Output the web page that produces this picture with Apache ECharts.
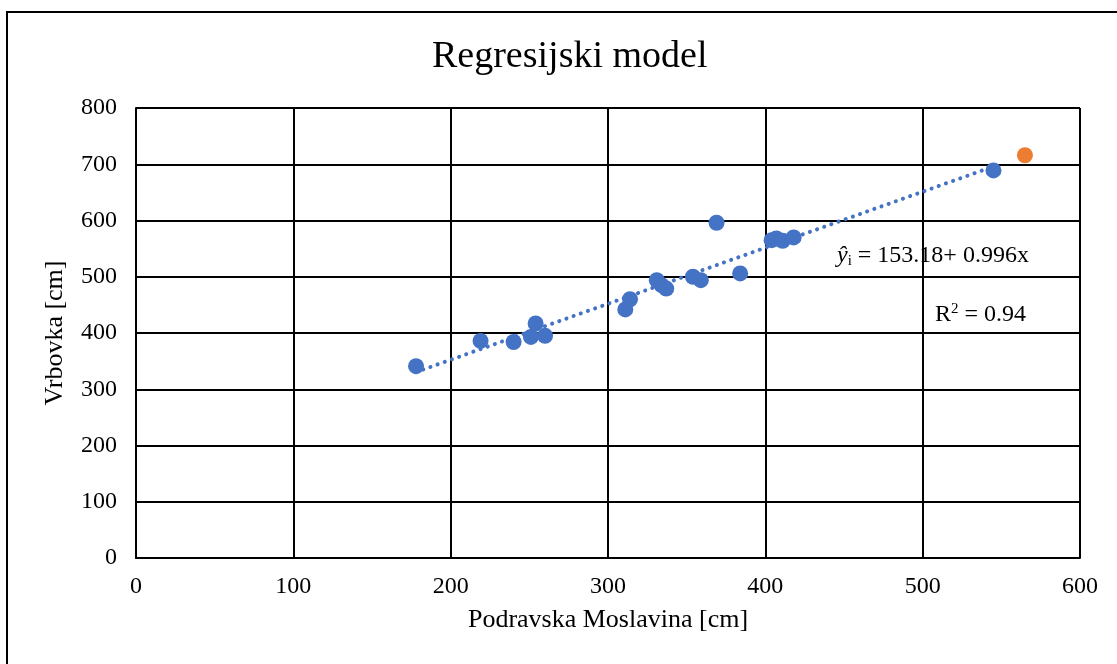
<!DOCTYPE html>
<html>
<head>
<meta charset="utf-8">
<script src="https://cdn.jsdelivr.net/npm/echarts@6/dist/echarts.min.js"></script>
<style>
  html, body { margin: 0; padding: 0; background: #fff; }
  #main { width: 1117px; height: 664px; }
</style>
</head>
<body>
<div id="main"></div>
<script>
// measured points: Podravska Moslavina (x) vs Vrbovka (y), cm
const xValues = [178, 219, 240, 251, 254, 260, 311, 314, 331, 334, 337, 354, 359, 369, 384, 404, 407, 411, 418, 545];
const yValues = [341, 386, 384, 393, 417, 395, 442, 460, 494, 485, 479, 500, 494, 596, 506, 565, 568, 564, 570, 689];
const extraPoint = [565, 716];

// trend line y = a + b*x
const trendA = 153.18;
const trendB = 0.996;
const trendFrom = 178;
const trendTo = 545;

const xTicks = [0, 100, 200, 300, 400, 500, 600];
const yTicks = [0, 100, 200, 300, 400, 500, 600, 700, 800];

const font = '"Liberation Serif", "Times New Roman", serif';

let points = xValues.map((x, i) => [x, yValues[i]]);
let trendLine = [trendFrom, trendTo].map(x => [x, trendA + trendB * x]);

let options = {
    animation: false,
    backgroundColor: '#fff',
    title: {
        text: 'Regresijski model',
        left: 427,
        top: 33,
        textStyle: { fontFamily: font, fontSize: 38, fontWeight: 'normal', color: '#000' }
    },
    grid: { left: 136, top: 108, right: 37, bottom: 106 },
    xAxis: {
        type: 'value',
        min: xTicks[0],
        max: xTicks[xTicks.length - 1],
        interval: 100,
        name: 'Podravska Moslavina [cm]',
        nameLocation: 'middle',
        nameGap: 49,
        nameTextStyle: { fontFamily: font, fontSize: 26, color: '#000' },
        axisLine: { lineStyle: { color: '#000', width: 2 } },
        axisTick: { show: false },
        axisLabel: { fontFamily: font, fontSize: 24, color: '#000', margin: 17 },
        splitLine: { lineStyle: { color: '#000', width: 2 } }
    },
    yAxis: {
        type: 'value',
        min: yTicks[0],
        max: yTicks[yTicks.length - 1],
        interval: 100,
        name: 'Vrbovka [cm]',
        nameLocation: 'middle',
        nameGap: 68,
        nameTextStyle: { fontFamily: font, fontSize: 26, color: '#000' },
        axisLine: { show: true, lineStyle: { color: '#000', width: 2 } },
        axisTick: { show: false },
        axisLabel: { fontFamily: font, fontSize: 24, color: '#000', margin: 19 },
        splitLine: { lineStyle: { color: '#000', width: 2 } }
    },
    graphic: [
        {
            type: 'rect',
            shape: { x: 7, y: 12, width: 1130, height: 680 },
            style: { fill: null, stroke: '#000', lineWidth: 2 },
            silent: true
        },
        {
            type: 'text',
            left: 837,
            top: 244,
            style: {
                rich: {
                    v: { fontFamily: font, fontSize: 24, fontStyle: 'italic', fill: '#000' },
                    s: { fontFamily: font, fontSize: 15, fill: '#000', verticalAlign: 'bottom', padding: [10, 0, 0, 0] },
                    n: { fontFamily: font, fontSize: 24, fill: '#000' }
                },
                text: '{v|ŷ}{s|i}{n| = ' + trendA + '+ ' + trendB + 'x}'
            }
        },
        {
            type: 'text',
            left: 935,
            top: 302,
            style: {
                rich: {
                    n: { fontFamily: font, fontSize: 24, fill: '#000' },
                    sup: { fontFamily: font, fontSize: 15, fill: '#000', verticalAlign: 'top', padding: [0, 0, 10, 0] }
                },
                text: '{n|R}{sup|2}{n| = 0.94}'
            }
        }
    ],
    series: [
        {
            type: 'line',
            data: trendLine,
            showSymbol: false,
            symbol: 'none',
            lineStyle: { color: '#4472C4', width: 4, type: [0.1, 7.5], cap: 'round' },
            z: 3
        },
        {
            type: 'scatter',
            data: points,
            symbolSize: 16,
            itemStyle: { color: '#4472C4', opacity: 1 },
            z: 4
        },
        {
            type: 'scatter',
            data: [extraPoint],
            symbolSize: 16,
            itemStyle: { color: '#ED7D31', opacity: 1 },
            z: 4
        }
    ]
};

let myChart = echarts.init(document.getElementById('main'));
myChart.setOption(options);
</script>
</body>
</html>
